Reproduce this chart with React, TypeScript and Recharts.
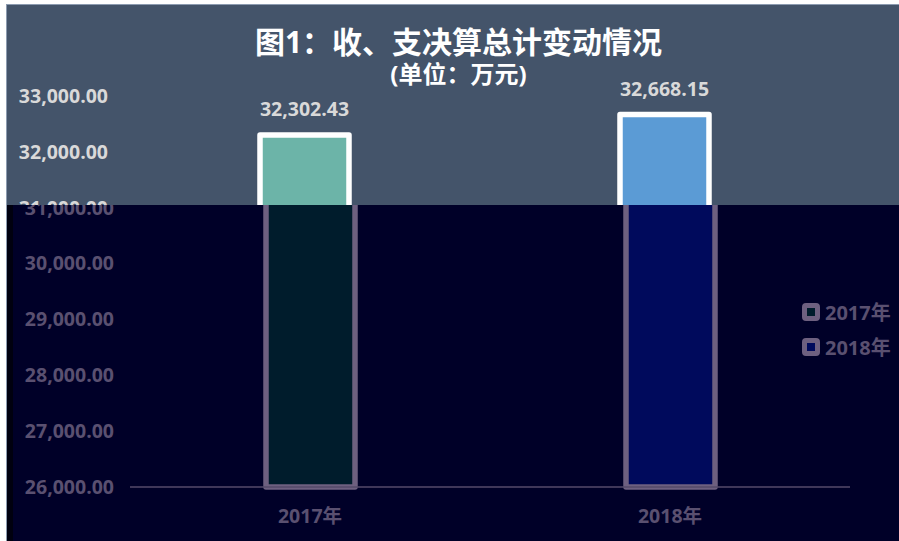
import { Bar, BarChart, Cell, LabelList, XAxis, YAxis } from 'recharts';

const categories = ['2017年', '2018年'];
const totals = [32302.43, 32668.15];
const yTicks = [26000, 27000, 28000, 29000, 30000, 31000, 32000, 33000];

const data = categories.map((name, i) => ({ name, value: totals[i] }));

interface Palette {
  bg: string;
  frame: string;
  title: string;
  text: string;
  axis: string;
  border: string;
  fills: string[];
}

const topPalette: Palette = {
  bg: '#44546a',
  frame: '#8c9bb0',
  title: '#ffffff',
  text: '#d9d9d9',
  axis: '#bfbfbf',
  border: '#ffffff',
  fills: ['#6cb4a8', '#5b9bd5'],
};

// the lower part of the reference is a darkened, shifted copy
const bottomPalette: Palette = {
  bg: '#000028',
  frame: '#00000f',
  title: '#6e6080',
  text: '#5a5070',
  axis: '#554a6a',
  border: '#6e6080',
  fills: ['#001c2c', '#000a5c'],
};

const font = '"Open Sans", "Noto Sans CJK SC", sans-serif';
const fmt = (v: number) =>
  v.toLocaleString('en-US', { minimumFractionDigits: 2, maximumFractionDigits: 2 });

function Panel({ p }: { p: Palette }) {
  const tick = { fill: p.text, fontSize: 19.5, fontWeight: 700, fontFamily: font };
  return (
    <div
      style={{
        position: 'relative',
        width: 893,
        height: 537,
        background: p.bg,
        borderTop: `1px solid ${p.frame}`,
        borderLeft: `1px solid ${p.frame}`,
        boxSizing: 'border-box',
        fontFamily: font,
      }}
    >
      <div
        style={{
          position: 'absolute',
          left: 10,
          top: 20,
          width: 883,
          textAlign: 'center',
          color: p.title,
          fontSize: 30,
          fontWeight: 700,
          lineHeight: '34px',
        }}
      >
        图1：收、支决算总计变动情况
      </div>
      <div
        style={{
          position: 'absolute',
          left: 10,
          top: 55,
          width: 883,
          textAlign: 'center',
          color: p.title,
          fontSize: 24,
          fontWeight: 700,
          lineHeight: '28px',
        }}
      >
        (单位：万元)
      </div>
      <div style={{ position: 'absolute', left: 789, top: 289 }}>
        {categories.map((c, i) => (
          <div key={c} style={{ display: 'flex', alignItems: 'center', height: 35 }}>
            <span
              style={{
                width: 8,
                height: 8,
                border: `5.5px solid ${p.border}`,
                borderRadius: 4,
                background: p.fills[i],
                marginRight: 5,
              }}
            />
            <span style={{ color: p.text, fontSize: 20, fontWeight: 700 }}>{c}</span>
          </div>
        ))}
      </div>
      <div style={{ position: 'absolute', left: -1, top: -1 }}>
        <BarChart
          width={893}
          height={537}
          data={data}
          margin={{ top: 92, right: 55, bottom: 24, left: 0 }}
        >
          <XAxis
            dataKey="name"
            tickLine={false}
            axisLine={{ stroke: p.axis, strokeWidth: 1.5 }}
            tickMargin={16}
            tick={tick}
          />
          <YAxis
            width={118}
            domain={[26000, 33000]}
            ticks={yTicks}
            axisLine={false}
            tickLine={false}
            tickMargin={10}
            tickFormatter={fmt}
            tick={tick}
          />
          <Bar
            dataKey="value"
            barSize={89}
            stroke={p.border}
            strokeWidth={5.5}
            strokeLinejoin="round"
            isAnimationActive={false}
          >
            {data.map((d, i) => (
              <Cell key={d.name} fill={p.fills[i]} />
            ))}
            <LabelList
              dataKey="value"
              position="top"
              offset={19}
              formatter={(v: any) => fmt(Number(v))}
              style={tick}
            />
          </Bar>
        </BarChart>
      </div>
    </div>
  );
}

export default function App() {
  return (
    <div
      style={{
        position: 'absolute',
        left: 0,
        top: 0,
        width: 899,
        height: 541,
        overflow: 'hidden',
        background: '#ffffff',
      }}
    >
      <div style={{ position: 'absolute', left: 6, top: 4 }}>
        <Panel p={topPalette} />
      </div>
      <div
        style={{
          position: 'absolute',
          left: 7,
          top: 205,
          width: 892,
          height: 336,
          overflow: 'hidden',
          background: '#00000f',
        }}
      >
        <div style={{ position: 'absolute', left: 5, top: -201 }}>
          <Panel p={bottomPalette} />
        </div>
      </div>
    </div>
  );
}
